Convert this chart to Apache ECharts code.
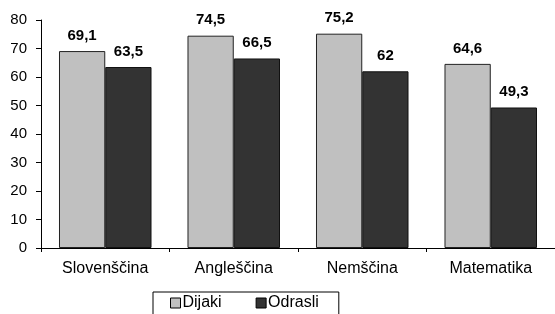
<!DOCTYPE html>
<html>
<head>
<meta charset="utf-8">
<script src="https://cdn.jsdelivr.net/npm/echarts@6/dist/echarts.min.js"></script>
<style>
html,body{margin:0;padding:0;background:#fff;}
#c{width:555px;height:314px;}
</style>
</head>
<body>
<div id="c"></div>
<script>
const categories = ['Slovenščina', 'Angleščina', 'Nemščina', 'Matematika'];
const dijaki = [69.1, 74.5, 75.2, 64.6];
const odrasli = [63.5, 66.5, 62, 49.3];
const seriesNames = ['Dijaki', 'Odrasli'];

const chart = echarts.init(document.getElementById('c'), null, {renderer: 'canvas'});
const font = 'Arial, "Liberation Sans", sans-serif';
const fmt = p => String(p.value).replace('.', ',');
chart.setOption({
  animation: false,
  textStyle: {fontFamily: font},
  grid: {left: 41, right: -6, top: 20, bottom: 66, containLabel: false},
  legend: {
    data: seriesNames,
    left: 153, top: 292,
    icon: 'rect', itemWidth: 10, itemHeight: 10, itemGap: 34,
    borderColor: '#000', borderWidth: 1,
    padding: [3, 20, 10, 17],
    textStyle: {fontSize: 16, color: '#000', fontFamily: font, padding: [0, 0, 0, -3]},
    itemStyle: {borderColor: '#000', borderWidth: 1}
  },
  xAxis: {
    type: 'category', data: categories,
    axisLine: {lineStyle: {color: '#000', width: 1}},
    axisTick: {show: true, length: 4, alignWithLabel: false, lineStyle: {color: '#000'}},
    axisLabel: {fontSize: 16, color: '#000', margin: 13, fontFamily: font}
  },
  yAxis: {
    type: 'value', min: 0, max: 80, interval: 10,
    axisLine: {show: true, lineStyle: {color: '#000', width: 1}},
    axisTick: {show: true, length: 5, lineStyle: {color: '#000'}},
    splitLine: {show: false},
    axisLabel: {fontSize: 15, color: '#000', margin: 14, fontFamily: font}
  },
  series: [
    {
      name: seriesNames[0], type: 'bar', data: dijaki,
      barGap: '0%', barCategoryGap: '28%',
      itemStyle: {color: '#c0c0c0', borderColor: '#222', borderWidth: 1},
      label: {show: true, position: 'top', distance: 8, formatter: fmt,
        fontSize: 15, fontWeight: 'bold', color: '#000', fontFamily: font}
    },
    {
      name: seriesNames[1], type: 'bar', data: odrasli,
      itemStyle: {color: '#333333', borderColor: '#111', borderWidth: 1},
      label: {show: true, position: 'top', distance: 8, formatter: fmt,
        fontSize: 15, fontWeight: 'bold', color: '#000', fontFamily: font}
    }
  ]
});
</script>
</body>
</html>
